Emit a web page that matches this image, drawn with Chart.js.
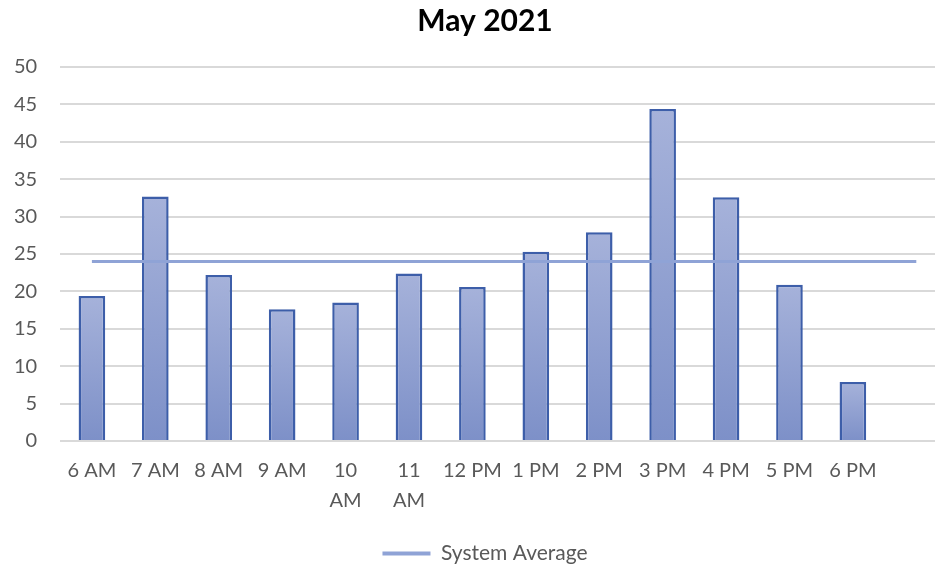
<!DOCTYPE html>
<html lang="en">
<head>
  <meta charset="UTF-8">
  <title>May 2021</title>
  <script src="https://cdn.jsdelivr.net/npm/chart.js@4.4.0/dist/chart.umd.min.js"></script>
  <style>
    html, body { margin: 0; padding: 0; background: #fff; overflow: hidden; }
    #wrap { width: 935px; height: 566px; overflow: hidden; }
  </style>
</head>
<body>
<div id="wrap"><canvas id="myChart" width="970" height="566"></canvas></div>
<script>
    // hours of the day, last slot left empty like the original sheet
    const categories = ['6 AM', '7 AM', '8 AM', '9 AM', '10 AM', '11 AM', '12 PM', '1 PM', '2 PM', '3 PM', '4 PM', '5 PM', '6 PM', ''];
    const hourValues = [19.4, 32.7, 22.2, 17.6, 18.5, 22.4, 20.6, 25.3, 27.9, 44.4, 32.6, 20.9, 7.9, null];
    const systemAverage = [24, 24, 24, 24, 24, 24, 24, 24, 24, 24, 24, 24, 24, 24];
    const yTicks = [0, 5, 10, 15, 20, 25, 30, 35, 40, 45, 50];

    const wrapped = { '10 AM': ['10', 'AM'], '11 AM': ['11', 'AM'] };
    const fontFam = 'Lato, "Liberation Sans", sans-serif';

    // light at the top of each bar, darker at the base
    function barFill(context) {
        const chart = context.chart;
        const y = chart.scales.y;
        if (!y || context.raw == null) return '#93a3d3';
        const top = y.getPixelForValue(context.raw);
        const bottom = y.getPixelForValue(0);
        const g = chart.ctx.createLinearGradient(0, top, 0, bottom);
        g.addColorStop(0, '#a6b2da');
        g.addColorStop(1, '#7d90c8');
        return g;
    }

    // nudge the legend a little lower, closer to the bottom edge
    const legendNudge = {
        id: 'legendNudge',
        afterLayout: (chart) => {
            chart.legend.top += 8;
            chart.legend.bottom += 8;
        }
    };

    var ctx = document.getElementById('myChart');
    var myChart = new Chart(ctx, {
        data: {
            labels: categories,
            datasets: [{
                type: 'line',
                label: 'System Average',
                data: systemAverage,
                borderColor: '#8fa3d6',
                backgroundColor: '#8fa3d6',
                borderWidth: 3,
                pointRadius: 0,
                order: 0
            }, {
                type: 'bar',
                label: 'Hours',
                data: hourValues,
                backgroundColor: barFill,
                borderColor: '#3d5ea9',
                borderWidth: 2.5,
                categoryPercentage: 1,
                barPercentage: 0.42,
                order: 1
            }]
        },
        plugins: [legendNudge],
        options: {
            responsive: false,
            animation: false,
            layout: { padding: { left: 14, right: 14, top: 0, bottom: 0 } },
            scales: {
                x: {
                    grid: { display: false },
                    border: { display: false },
                    afterFit: (s) => { s.paddingLeft = 0; s.paddingRight = 22; s.height += 12; },
                    ticks: {
                        color: '#595959',
                        font: { family: fontFam, size: 20, lineHeight: 1.5 },
                        padding: 7,
                        maxRotation: 0,
                        autoSkip: false,
                        callback: function (value) {
                            const l = this.getLabelForValue(value);
                            return wrapped[l] || l;
                        }
                    }
                },
                y: {
                    min: 0,
                    max: 50,
                    afterBuildTicks: (scale) => { scale.ticks = yTicks.map(v => ({ value: v })); },
                    afterFit: (s) => { s.width -= s.options.ticks.padding; },
                    grid: { color: '#d9d9d9', lineWidth: 2, drawTicks: false },
                    border: { display: false },
                    ticks: {
                        color: '#595959',
                        font: { family: fontFam, size: 20 },
                        padding: 23
                    }
                }
            },
            plugins: {
                title: {
                    display: true,
                    text: 'May 2021',
                    color: '#000',
                    font: { family: fontFam, size: 30, weight: 'bold' },
                    padding: { top: 3, bottom: 28 }
                },
                legend: {
                    position: 'bottom',
                    labels: {
                        color: '#595959',
                        font: { family: fontFam, size: 21, lineHeight: 1 },
                        boxWidth: 48,
                        boxHeight: 4,
                        padding: 0,
                        filter: (item) => item.text === 'System Average',
                        generateLabels: (chart) => [{
                            text: 'System Average',
                            fillStyle: '#8fa3d6',
                            strokeStyle: '#8fa3d6',
                            lineWidth: 0,
                            datasetIndex: 0,
                            fontColor: '#595959'
                        }]
                    }
                },
                tooltip: { enabled: false }
            }
        }
    });
</script>
</body>
</html>
